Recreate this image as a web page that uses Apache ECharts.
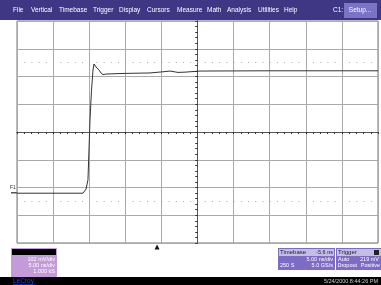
<!DOCTYPE html>
<html>
<head>
<meta charset="utf-8">
<script src="https://cdn.jsdelivr.net/npm/echarts@6.0.0/dist/echarts.min.js"></script>
<style>
  html, body { margin: 0; padding: 0; background: #fff; }
  #chart { width: 381px; height: 285px; }
</style>
</head>
<body>
<div id="chart"></div>
<script>
// waveform, time relative to screen centre (ns) and level (mV)
const timeNs = [-25, -15.86, -15.44, -15.17, -15.03, -14.89, -14.68, -14.47, -14.34, -14.06, -13.64, -13.37, -13.09, -12.67, -10.73, -6.58, -4.5, -3.81, -2.7, -1.73, 0.35, 10, 25]
const levelMv = [-225, -225, -210, -176, -66, 44, 154, 228, 250, 239, 228, 217, 211, 213, 215, 217, 222, 224, 219, 220, 224, 225, 225]

const menuItems = ['File', 'Vertical', 'Timebase', 'Trigger', 'Display', 'Cursors', 'Measure', 'Math', 'Analysis', 'Utilities', 'Help']
const menuX = [13, 31, 59, 93, 119, 147, 177, 207, 227, 258, 284]

const channelInfo = ['102 mV/div', '5.00 ns/div', '1.000 kS']
const timebaseInfo = ['5.00 ns/div', '250 S', '5.0 GS/s']
const triggerInfo = ['Auto', '219 mV', 'Dropout', 'Positive']
const delayNs = -5.6
const cursorMv = [255, -255]

const chart = echarts.init(document.getElementById('chart'))

const font = '"Liberation Sans", sans-serif'
const txt = (x, y, text, size, color, align) => ({
  type: 'text', x: x, y: y,
  style: { text: text, fontSize: size, fill: color, align: align || 'left', verticalAlign: 'middle', fontFamily: font }
})

const graphics = [
  // menu bar
  { type: 'rect', shape: { x: 0, y: 0, width: 381, height: 20 }, style: { fill: '#3f3784' } },
  { type: 'rect', shape: { x: 344, y: 3, width: 33, height: 15 }, style: { fill: '#7a73c6' } },
  txt(360, 10.5, 'Setup...', 6.5, '#fff', 'center'),
  txt(333, 10.5, 'C1:', 6.5, '#fff'),
  // channel box
  { type: 'rect', shape: { x: 11, y: 248, width: 46, height: 29 }, style: { fill: '#c49bd8' } },
  { type: 'rect', shape: { x: 12, y: 249, width: 44, height: 6 }, style: { fill: '#000' } },
  // timebase + trigger boxes
  { type: 'rect', shape: { x: 278, y: 248, width: 57, height: 22 }, style: { fill: '#7c6cc4' } },
  { type: 'rect', shape: { x: 279, y: 249, width: 55, height: 7 }, style: { fill: '#c4bdea' } },
  { type: 'rect', shape: { x: 336, y: 248, width: 45, height: 22 }, style: { fill: '#7c6cc4' } },
  { type: 'rect', shape: { x: 337, y: 249, width: 44, height: 7 }, style: { fill: '#c4bdea' } },
  { type: 'rect', shape: { x: 374, y: 250, width: 5, height: 5 }, style: { fill: '#222' } },
  txt(280, 252.5, 'Timebase', 6, '#222'),
  txt(333, 252.5, delayNs + ' ns', 5.5, '#222', 'right'),
  txt(338, 252.5, 'Trigger', 6, '#222'),
  txt(333, 259, timebaseInfo[0], 5.5, '#fff', 'right'),
  txt(280, 265.5, timebaseInfo[1], 5.5, '#fff'),
  txt(333, 265.5, timebaseInfo[2], 5.5, '#fff', 'right'),
  txt(338, 259, triggerInfo[0], 5.5, '#fff'),
  txt(379, 259, triggerInfo[1], 5.5, '#fff', 'right'),
  txt(337.5, 265.5, triggerInfo[2], 5.5, '#fff'),
  txt(380, 265.5, triggerInfo[3], 5.5, '#fff', 'right'),
  // bottom status bar
  { type: 'rect', shape: { x: 0, y: 277, width: 381, height: 8 }, style: { fill: '#000' } },
  txt(13, 281, 'LeCroy', 6.5, '#2040ff'),
  { type: 'rect', shape: { x: 13, y: 284, width: 22, height: 0.6 }, style: { fill: '#2040ff' } },
  txt(378, 281, '5/24/2000 8:44:26 PM', 5.5, '#ccc', 'right'),
  // trace label
  txt(10, 188, 'F1', 5, '#333'),
  { type: 'rect', shape: { x: 11, y: 192, width: 6, height: 1.5 }, style: { fill: '#555' } }
]
menuItems.forEach((m, i) => graphics.push(txt(menuX[i], 10.5, m, 6.5, '#fff')))
channelInfo.forEach((s, i) => graphics.push(txt(55, 259 + i * 6, s, 5.5, '#fff', 'right')))

const gridLine = { show: true, lineStyle: { color: '#aaa', width: 1 } }
const baseX = {
  type: 'value', min: -25, max: 25, interval: 5,
  axisLabel: { show: false },
  axisLine: { show: true, onZero: true, lineStyle: { color: '#555' } },
  minorTick: { show: true, splitNumber: 5, length: 2, lineStyle: { color: '#333' } }
}
const baseY = {
  type: 'value', min: -408, max: 408, interval: 102,
  axisLabel: { show: false },
  axisLine: { show: true, onZero: true, lineStyle: { color: '#555' } },
  minorTick: { show: true, splitNumber: 5, length: 2, lineStyle: { color: '#333' } }
}

chart.setOption({
  animation: false,
  backgroundColor: '#fff',
  grid: { left: 17, right: 3, top: 21, bottom: 42, show: true, borderColor: '#777', borderWidth: 1 },
  xAxis: [
    Object.assign({}, baseX, { splitLine: gridLine, axisTick: { show: true, inside: false, length: 2, lineStyle: { color: '#333' } } }),
    Object.assign({}, baseX, { splitLine: { show: false }, axisTick: { show: true, inside: true, length: 2, lineStyle: { color: '#333' } } })
  ],
  yAxis: [
    Object.assign({}, baseY, { splitLine: gridLine, axisTick: { show: true, inside: false, length: 2, lineStyle: { color: '#333' } } }),
    Object.assign({}, baseY, { splitLine: { show: false }, axisTick: { show: true, inside: true, length: 2, lineStyle: { color: '#333' } } })
  ],
  series: [{
    type: 'line',
    data: timeNs.map((t, i) => [t, levelMv[i]]),
    symbol: 'none',
    lineStyle: { color: '#333', width: 1 },
    markLine: {
      silent: true, symbol: 'none', label: { show: false },
      lineStyle: { color: '#aaa', width: 1, type: [1, 6.22], dashOffset: 0 },
      data: cursorMv.map(v => ({ yAxis: v }))
    },
    markPoint: {
      silent: true, symbol: 'triangle', symbolSize: [5, 5], symbolOffset: [0, 4],
      itemStyle: { color: '#111' }, label: { show: false },
      data: [{ coord: [delayNs, -408] }]
    }
  }],
  graphic: graphics
})
</script>
</body>
</html>
